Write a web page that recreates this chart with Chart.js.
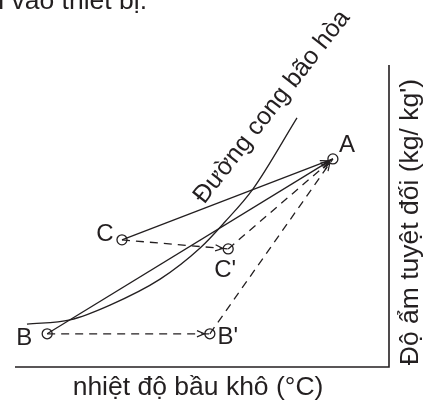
<!DOCTYPE html>
<html>
<head>
<meta charset="utf-8">
<script src="https://cdn.jsdelivr.net/npm/chart.js@4"></script>
<style>
  html, body { margin: 0; padding: 0; background: #fff; }
  canvas { display: block; }
</style>
</head>
<body>
<canvas id="psyChart" width="424" height="403"></canvas>
<script>
// state points (dry-bulb temp, absolute humidity) in chart units
const pointNames = ['A', 'B', 'C', "B'", "C'"];
const pointX = [85.0, 8.6, 28.6, 52.1, 57.0];
const pointY = [68.9, 11.0, 42.1, 11.0, 39.1];

// saturation curve
const curveX = [3.2, 14.7, 25.4, 38.8, 49.5, 56.1, 63.6, 75.4];
const curveY = [14.2, 15.6, 20.5, 29.1, 39.4, 48.0, 58.9, 82.5];

// process lines: from, to, dashed
const segFrom = ['C', 'B', 'C', 'B', "C'", "B'"];
const segTo = ['A', 'A', "C'", "B'", 'A', 'A'];
const segDashed = [false, false, true, true, true, true];

const ink = '#231f20';
const font = '"Liberation Sans", Arial, sans-serif';

const pt = name => {
    const i = pointNames.indexOf(name);
    return { x: pointX[i], y: pointY[i] };
};

const datasets = [];
datasets.push({
    label: 'curve',
    data: curveX.map((x, i) => ({ x: x, y: curveY[i] })),
    showLine: true,
    borderColor: ink,
    borderWidth: 1.3,
    pointRadius: 0,
    cubicInterpolationMode: 'monotone'
});
segFrom.forEach((f, i) => {
    datasets.push({
        label: f + '-' + segTo[i],
        data: [pt(f), pt(segTo[i])],
        showLine: true,
        borderColor: ink,
        borderWidth: 1.3,
        borderDash: segDashed[i] ? [8, 6] : [],
        pointRadius: 0
    });
});
datasets.push({
    label: 'points',
    data: pointX.map((x, i) => ({ x: x, y: pointY[i] })),
    showLine: false,
    pointRadius: 5,
    pointBackgroundColor: '#fff',
    pointBorderColor: ink,
    pointBorderWidth: 1.3
});

// arrowheads, frame and texts
const decor = {
    id: 'decor',
    afterDatasetsDraw(chart) {
        const c = chart.ctx;
        const xs = chart.scales.x, ys = chart.scales.y;
        const area = chart.chartArea;
        c.save();
        c.strokeStyle = ink;
        c.lineWidth = 1.2;
        c.setLineDash([]);
        segFrom.forEach((f, i) => {
            const a = pt(f), b = pt(segTo[i]);
            const x1 = xs.getPixelForValue(a.x), y1 = ys.getPixelForValue(a.y);
            const x2 = xs.getPixelForValue(b.x), y2 = ys.getPixelForValue(b.y);
            const ang = Math.atan2(y2 - y1, x2 - x1);
            const tx = x2 - Math.cos(ang) * 5.5, ty = y2 - Math.sin(ang) * 5.5;
            c.beginPath();
            c.moveTo(tx - Math.cos(ang - 0.4) * 8, ty - Math.sin(ang - 0.4) * 8);
            c.lineTo(tx, ty);
            c.lineTo(tx - Math.cos(ang + 0.4) * 8, ty - Math.sin(ang + 0.4) * 8);
            c.stroke();
        });

        // bottom and right axis lines
        c.lineWidth = 1.6;
        c.beginPath();
        c.moveTo(area.left, area.bottom);
        c.lineTo(area.right, area.bottom);
        c.lineTo(area.right, area.top);
        c.stroke();

        c.fillStyle = ink;
        c.font = '24px ' + font;
        c.textAlign = 'center';
        c.textBaseline = 'middle';
        const offs = { 'A': [14, -14], 'B': [-23, 5], 'C': [-17, -5], "B'": [18, 4], "C'": [-3, 21] };
        pointNames.forEach((n, i) => {
            const px = xs.getPixelForValue(pointX[i]), py = ys.getPixelForValue(pointY[i]);
            c.fillText(n, px + offs[n][0], py + offs[n][1]);
        });

        c.font = '26.5px ' + font;
        c.fillText('nhiệt độ bầu khô (°C)', 198, 388);

        c.save();
        c.translate(411, 222);
        c.rotate(-Math.PI / 2);
        c.fillText("Độ ẩm tuyệt đối (kg/ kg')", 0, 0);
        c.restore();

        c.font = '25px ' + font;
        c.save();
        c.translate(272, 107);
        c.rotate(-52 * Math.PI / 180);
        c.fillText('Đường cong bão hòa', 0, 0);
        c.restore();

        c.font = '26.5px ' + font;
        c.textAlign = 'right';
        c.textBaseline = 'alphabetic';
        c.fillText('đi vào thiết bị.', 147, 9);
        c.restore();
    }
};

new Chart(document.getElementById('psyChart'), {
    type: 'scatter',
    data: { datasets: datasets },
    options: {
        responsive: false,
        animation: false,
        layout: { padding: { left: 15, right: 35, top: 65, bottom: 36 } },
        scales: {
            x: { display: false, min: 0, max: 100 },
            y: { display: false, min: 0, max: 100 }
        },
        clip: false,
        plugins: {
            legend: { display: false },
            tooltip: { enabled: false }
        }
    },
    plugins: [decor]
});
</script>
</body>
</html>
